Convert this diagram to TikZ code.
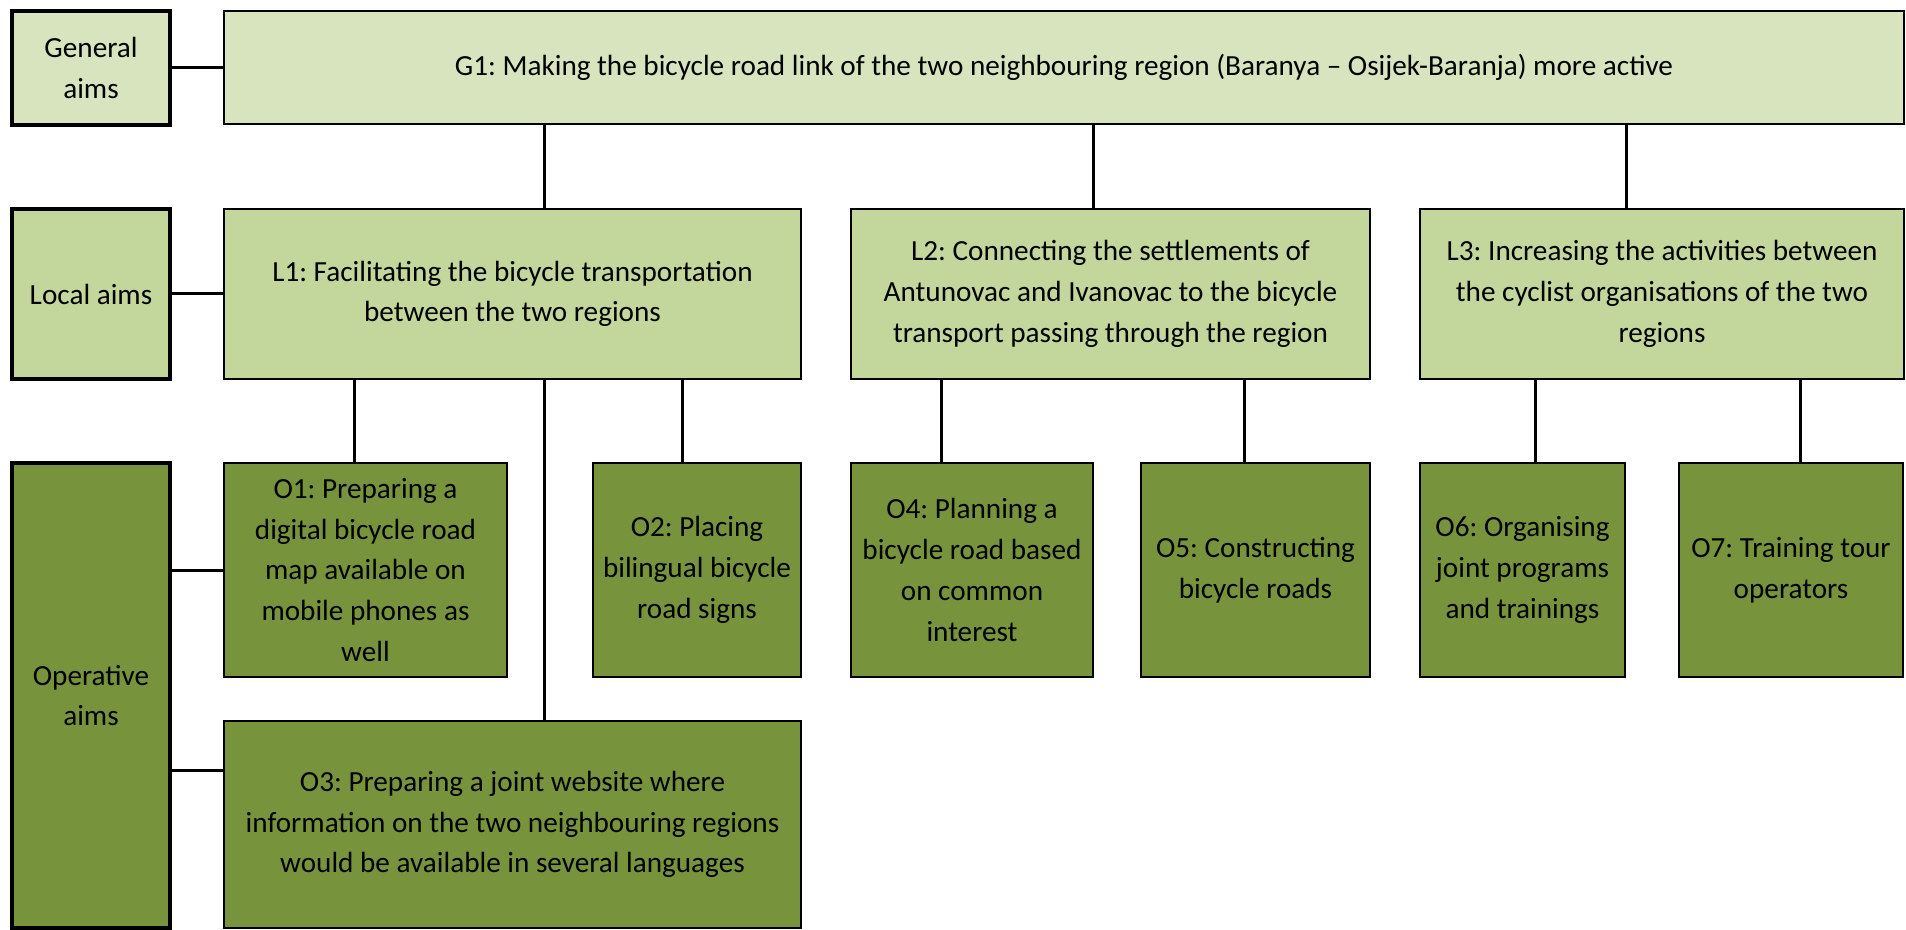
\documentclass[tikz,border=0pt]{standalone}
\usepackage{fontspec}
\setmainfont{Carlito}
\usetikzlibrary{calc}
\definecolor{genfill}{HTML}{D7E4BD}
\definecolor{locfill}{HTML}{C3D69B}
\definecolor{opfill}{HTML}{77933C}
\tikzset{
  aimbox/.style={draw=black, line width=1pt, inner sep=0pt, align=center,
    font=\fontsize{14.6pt}{20.35pt}\selectfont},
  catbox/.style={aimbox, line width=1.6pt},
  genbox/.style={fill=genfill},
  locbox/.style={fill=locfill},
  opbox/.style={fill=opfill},
  link/.style={draw=black, line width=1.5pt}
}
\frenchspacing
\begin{document}
\frenchspacing
\begin{tikzpicture}[x=0.5pt, y=-0.5pt]
\useasboundingbox (0,0) rectangle (1906,930);

% category column
\node[catbox, genbox, minimum width=79pt, minimum height=57pt] (gen) at (91,68) {General\\aims};
\node[catbox, locbox, minimum width=79pt, minimum height=85pt] (loc) at (91,294) {Local aims};
\node[catbox, opbox, minimum width=79pt, minimum height=232.5pt] (op) at (91,695.5) {Operative\\aims};

% general aim
\node[aimbox, genbox, minimum width=840pt, minimum height=56.5pt] (g1) at (1064,67.5)
  {G1: Making the bicycle road link of the two neighbouring region (Baranya – Osijek-Baranja) more active};

% local aims
\node[aimbox, locbox, minimum width=288.5pt, minimum height=85pt] (l1) at (512.5,294)
  {L1: Facilitating the bicycle transportation\\between the two regions};
\node[aimbox, locbox, minimum width=259.5pt, minimum height=85pt] (l2) at (1110.5,294)
  {L2: Connecting the settlements of\\Antunovac and Ivanovac to the bicycle\\transport passing through the region};
\node[aimbox, locbox, minimum width=242pt, minimum height=85pt] (l3) at (1662,294)
  {L3: Increasing the activities between\\the cyclist organisations of the two\\regions};

% operative aims
\node[aimbox, opbox, minimum width=141.5pt, minimum height=107pt] (o1) at (365.5,570)
  {O1: Preparing a\\digital bicycle road\\map available on\\mobile phones as\\well};
\node[aimbox, opbox, minimum width=104pt, minimum height=107pt] (o2) at (697,570)
  {O2: Placing\\bilingual bicycle\\road signs};
\node[aimbox, opbox, minimum width=288.5pt, minimum height=103.5pt] (o3) at (512.5,824.5)
  {O3: Preparing a joint website where\\information on the two neighbouring regions\\would be available in several languages};
\node[aimbox, opbox, minimum width=121pt, minimum height=107pt] (o4) at (972,570)
  {O4: Planning a\\bicycle road based\\on common\\interest};
\node[aimbox, opbox, minimum width=114.5pt, minimum height=107pt] (o5) at (1255.5,570)
  {O5: Constructing\\bicycle roads};
\node[aimbox, opbox, minimum width=102.5pt, minimum height=107pt] (o6) at (1522.5,570)
  {O6: Organising\\joint programs\\and trainings};
\node[aimbox, opbox, minimum width=112pt, minimum height=107pt] (o7) at (1791,570)
  {O7: Training tour\\operators};

% attachment points on the box edges
\coordinate (a1) at ($(l1.north west)!0.556!(l1.north east)$);
\coordinate (a2) at ($(l2.north west)!0.468!(l2.north east)$);
\coordinate (a3) at ($(l3.north west)!0.426!(l3.north east)$);
\coordinate (b1) at ($(o1.north west)!0.463!(o1.north east)$);
\coordinate (b2) at ($(o2.north west)!0.433!(o2.north east)$);
\coordinate (b3) at ($(o3.north west)!0.556!(o3.north east)$);
\coordinate (b4) at ($(o4.north west)!0.376!(o4.north east)$);
\coordinate (b5) at ($(o5.north west)!0.454!(o5.north east)$);
\coordinate (b6) at ($(o6.north west)!0.561!(o6.north east)$);
\coordinate (b7) at ($(o7.north west)!0.542!(o7.north east)$);
\coordinate (s3) at ($(o3.north west)!0.24!(o3.south west)$);

% category links
\draw[link] (gen.east) -- (gen.east -| g1.west);
\draw[link] (loc.east) -- (loc.east -| l1.west);
\draw[link] (op.east |- o1.west) -- (o1.west);
\draw[link] (op.east |- s3) -- (s3);

% general to local
\draw[link] (a1 |- g1.south) -- (a1);
\draw[link] (a2 |- g1.south) -- (a2);
\draw[link] (a3 |- g1.south) -- (a3);

% local to operative
\draw[link] (b1 |- l1.south) -- (b1);
\draw[link] (b2 |- l1.south) -- (b2);
\draw[link] (b3 |- l1.south) -- (b3);
\draw[link] (b4 |- l2.south) -- (b4);
\draw[link] (b5 |- l2.south) -- (b5);
\draw[link] (b6 |- l3.south) -- (b6);
\draw[link] (b7 |- l3.south) -- (b7);
\end{tikzpicture}
\end{document}
